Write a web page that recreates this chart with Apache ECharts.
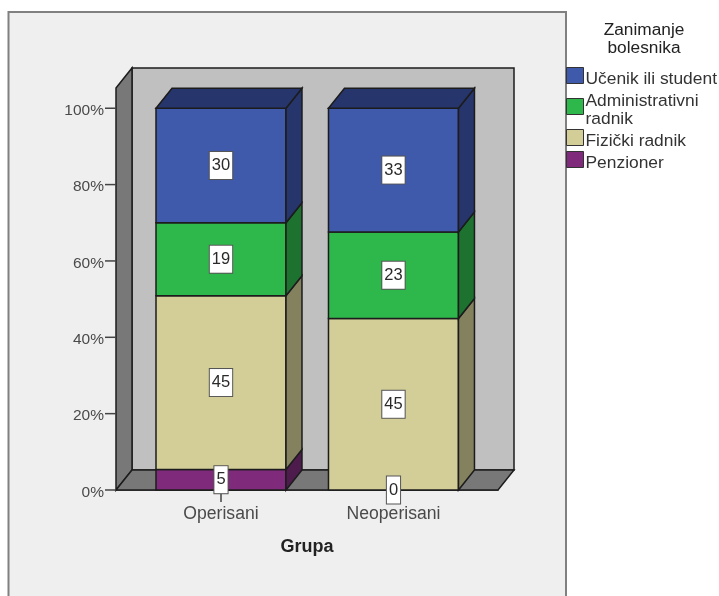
<!DOCTYPE html>
<html>
<head>
<meta charset="utf-8">
<style>html,body{margin:0;padding:0;background:#fff}#c{width:719px;height:596px}</style>
<script src="https://cdn.jsdelivr.net/npm/echarts@6/dist/echarts.min.js"></script>
</head>
<body>
<div id="c"></div>
<script>
const categories = ['Operisani', 'Neoperisani'];
const tickLabels = [0, 20, 40, 60, 80, 100];
const seriesNames = ['Učenik ili student', 'Administrativni\nradnik', 'Fizički radnik', 'Penzioner'];
// bar heights (percent of the group)
const penzionerShare = [5.4, 0];
const fizickiShare = [45.5, 44.9];
const adminShare = [19.1, 22.7];
const ucenikShare = [30, 32.4];
// numbers printed in the boxes
const penzionerLabels = [5, 0];
const fizickiLabels = [45, 45];
const adminLabels = [19, 23];
const ucenikLabels = [30, 33];

const FONT = '"Liberation Sans", Arial, sans-serif';
const DX = 16, DY = 20, BAR = 0.7536, EDGE = '#1c1c1c', TICK = 11;
const X_MIN = -0.6087, X_MAX = 1.606, Y_MAX = 105.3;

const stackOrder = [
  { name: seriesNames[3], share: penzionerShare, labels: penzionerLabels, front: '#7f2a7b', dark: '#4e1b4d' },
  { name: seriesNames[2], share: fizickiShare, labels: fizickiLabels, front: '#d3ce98', dark: '#84815e' },
  { name: seriesNames[1], share: adminShare, labels: adminLabels, front: '#2eb84b', dark: '#1d7230' },
  { name: seriesNames[0], share: ucenikShare, labels: ucenikLabels, front: '#3f59ab', dark: '#26356b' }
];

const poly = (points, fill) => ({
  type: 'polygon',
  shape: { points },
  style: { fill, stroke: EDGE, lineWidth: 1.5 }
});

const wallSeries = {
  type: 'custom',
  silent: true,
  z: 2,
  clip: false,
  data: [[X_MIN, X_MAX, 0, Y_MAX]],
  encode: { x: [0, 1], y: [2, 3] },
  renderItem(params, api) {
    const a = api.coord([api.value(0), api.value(2)]);
    const b = api.coord([api.value(1), api.value(3)]);
    const L = a[0], R = b[0], B = a[1], T = b[1];
    return {
      type: 'group',
      children: [
        poly([[L + DX, T - DY], [R + DX, T - DY], [R + DX, B - DY], [L + DX, B - DY]], '#c0c0c0'),
        poly([[L, T], [L + DX, T - DY], [L + DX, B - DY], [L, B]], '#787878'),
        poly([[L, B], [L + DX, B - DY], [R + DX, B - DY], [R, B]], '#787878')
      ]
    };
  }
};

const tickSeries = {
  type: 'custom',
  silent: true,
  z: 2,
  clip: false,
  data: tickLabels.map((v) => [X_MIN, v]),
  encode: { x: 0, y: 1 },
  renderItem(params, api) {
    const p = api.coord([api.value(0), api.value(1)]);
    return {
      type: 'line',
      shape: { x1: p[0] - TICK, y1: p[1], x2: p[0], y2: p[1] },
      style: { stroke: '#444', lineWidth: 1.5 }
    };
  }
};

const base = [0, 0];
const barSeries = stackOrder.map((s) => {
  const data = s.share.map((v, i) => {
    const row = [i, base[i], base[i] + v];
    base[i] += v;
    return row;
  });
  return {
    type: 'custom',
    name: s.name,
    z: 3,
    clip: false,
    data,
    encode: { x: 0, y: [1, 2] },
    itemStyle: { color: s.front },
    renderItem(params, api) {
      const i = api.value(0), y0 = api.value(1), y1 = api.value(2);
      if (y1 - y0 <= 0) return { type: 'group', children: [] };
      const w = api.size([BAR, 0])[0];
      const p0 = api.coord([i, y0]), p1 = api.coord([i, y1]);
      const l = p0[0] - w / 2, r = p0[0] + w / 2, b = p0[1], t = p1[1];
      const kids = [
        poly([[l, t], [r, t], [r, b], [l, b]], s.front),
        poly([[r, t], [r + DX, t - DY], [r + DX, b - DY], [r, b]], s.dark)
      ];
      if (y1 >= 99.9) kids.push(poly([[l, t], [l + DX, t - DY], [r + DX, t - DY], [r, t]], s.dark));
      return { type: 'group', children: kids };
    }
  };
});

const labelSeries = stackOrder.map((s, k) => ({
  type: 'custom',
  silent: true,
  z: 5,
  clip: false,
  data: barSeries[k].data.map((row, i) => [row[0], (row[1] + row[2]) / 2, s.labels[i]]),
  encode: { x: 0, y: 1 },
  renderItem(params, api) {
    const p = api.coord([api.value(0), api.value(1)]);
    return {
      type: 'text',
      z2: 10,
      x: p[0],
      y: p[1],
      style: {
        text: String(api.value(2)),
        align: 'center',
        verticalAlign: 'middle',
        font: '16.5px ' + FONT,
        fill: '#2a2a2a',
        backgroundColor: '#fff',
        borderColor: '#555',
        borderWidth: 1,
        padding: [7, 2, 3, 2]
      }
    };
  }
}));

const chart = echarts.init(document.getElementById('c'));
chart.setOption({
  animation: false,
  backgroundColor: '#fff',
  graphic: [{
    type: 'rect',
    z: -10,
    silent: true,
    shape: { x: 8.5, y: 12, width: 557.5, height: 600 },
    style: { fill: '#efefef', stroke: '#808080', lineWidth: 2 }
  }],
  title: [{
    text: 'Zanimanje\nbolesnika',
    left: 644,
    top: 21,
    textAlign: 'center',
    padding: 0,
    textStyle: { fontFamily: FONT, fontSize: 17.3, fontWeight: 'normal', color: '#222', lineHeight: 18 }
  }],
  legend: {
    orient: 'vertical',
    left: 566,
    top: 66.5,
    padding: 0,
    itemWidth: 17,
    itemHeight: 16,
    itemGap: 1,
    selectedMode: false,
    icon: 'rect',
    formatter: (name) => '{t|' + name + '}',
    textStyle: {
      fontFamily: FONT,
      fontSize: 17.4,
      color: '#333',
      lineHeight: 18,
      rich: { t: { fontFamily: FONT, fontSize: 17.4, color: '#333', lineHeight: 18, padding: [3.5, 0, -3.5, -3] } }
    },
    data: stackOrder.slice().reverse().map((s) => ({
      name: s.name,
      itemStyle: { color: s.front, borderColor: '#333', borderWidth: 1, borderJoin: 'miter' }
    }))
  },
  grid: { left: 116, right: 221, top: 88, bottom: 106 },
  xAxis: {
    type: 'value',
    min: X_MIN,
    max: X_MAX,
    splitLine: { show: false },
    name: 'Grupa',
    nameLocation: 'middle',
    nameGap: 48,
    nameTextStyle: { fontFamily: FONT, fontSize: 18, fontWeight: 'bold', color: '#222' },
    axisLine: { show: true, lineStyle: { color: EDGE, width: 1.5 } },
    axisTick: { show: true, length: 12, customValues: [0, 1], lineStyle: { color: '#444', width: 1.5 } },
    axisLabel: {
      customValues: [0, 1],
      margin: 15,
      fontFamily: FONT,
      fontSize: 17.6,
      color: '#4a4a4a',
      formatter: (v) => categories[v]
    }
  },
  yAxis: {
    type: 'value',
    min: 0,
    max: Y_MAX,
    splitLine: { show: false },
    axisLine: { show: true, lineStyle: { color: EDGE, width: 1.5 } },
    axisTick: { show: false },
    axisLabel: {
      customValues: tickLabels,
      margin: 12,
      fontFamily: FONT,
      fontSize: 15.5,
      color: '#4a4a4a',
      verticalAlign: 'top',
      lineHeight: 5,
      formatter: (v) => v + '%'
    }
  },
  series: [wallSeries, tickSeries, ...barSeries, ...labelSeries]
});
</script>
</body>
</html>
